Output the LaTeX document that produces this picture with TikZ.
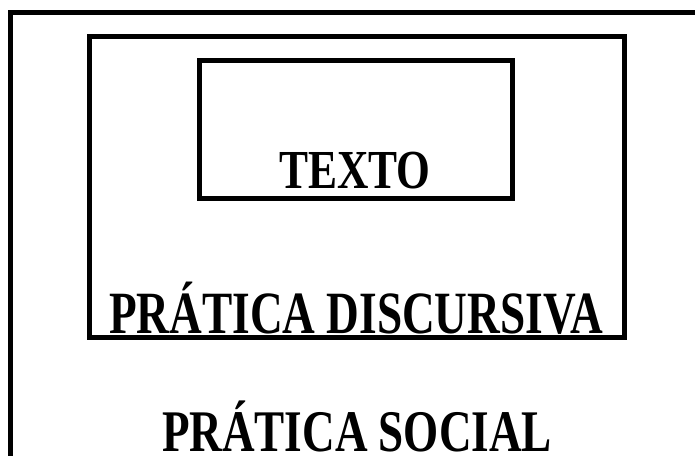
\documentclass[tikz,border=0pt]{standalone}
\usepackage{graphicx}
\usepackage{fontspec}
\setmainfont{Liberation Serif}
\begin{document}
\begin{tikzpicture}[x=1pt,y=-1pt,
  boxline/.style={draw=black,line width=5pt,line join=miter},
  lbl/.style={anchor=base,inner sep=0pt,text=black}]
\useasboundingbox (0,0) rectangle (695,455);
\clip (0,0) rectangle (695,455);
\fill[white] (0,0) rectangle (695,455);
% outer box (extends beyond the frame at right and bottom)
\draw[boxline] (10,12) rectangle (720,480);
% middle box
\draw[boxline] (89,36) rectangle (624,337);
% inner box
\draw[boxline] (199,60) rectangle (512,198);
\node[lbl,font=\bfseries\fontsize{55}{55}\selectfont] (texto) at (355,188) {\scalebox{0.79}[1]{TEXTO}};
\node[lbl,font=\bfseries\fontsize{60}{60}\selectfont] (discursiva) at (356,333) {\scalebox{0.755}[1]{PRÁTICA DISCURSIVA}};
\node[lbl,font=\bfseries\fontsize{59}{59}\selectfont] (social) at (357,451) {\scalebox{0.765}[1]{PRÁTICA SOCIAL}};
\end{tikzpicture}
\end{document}
